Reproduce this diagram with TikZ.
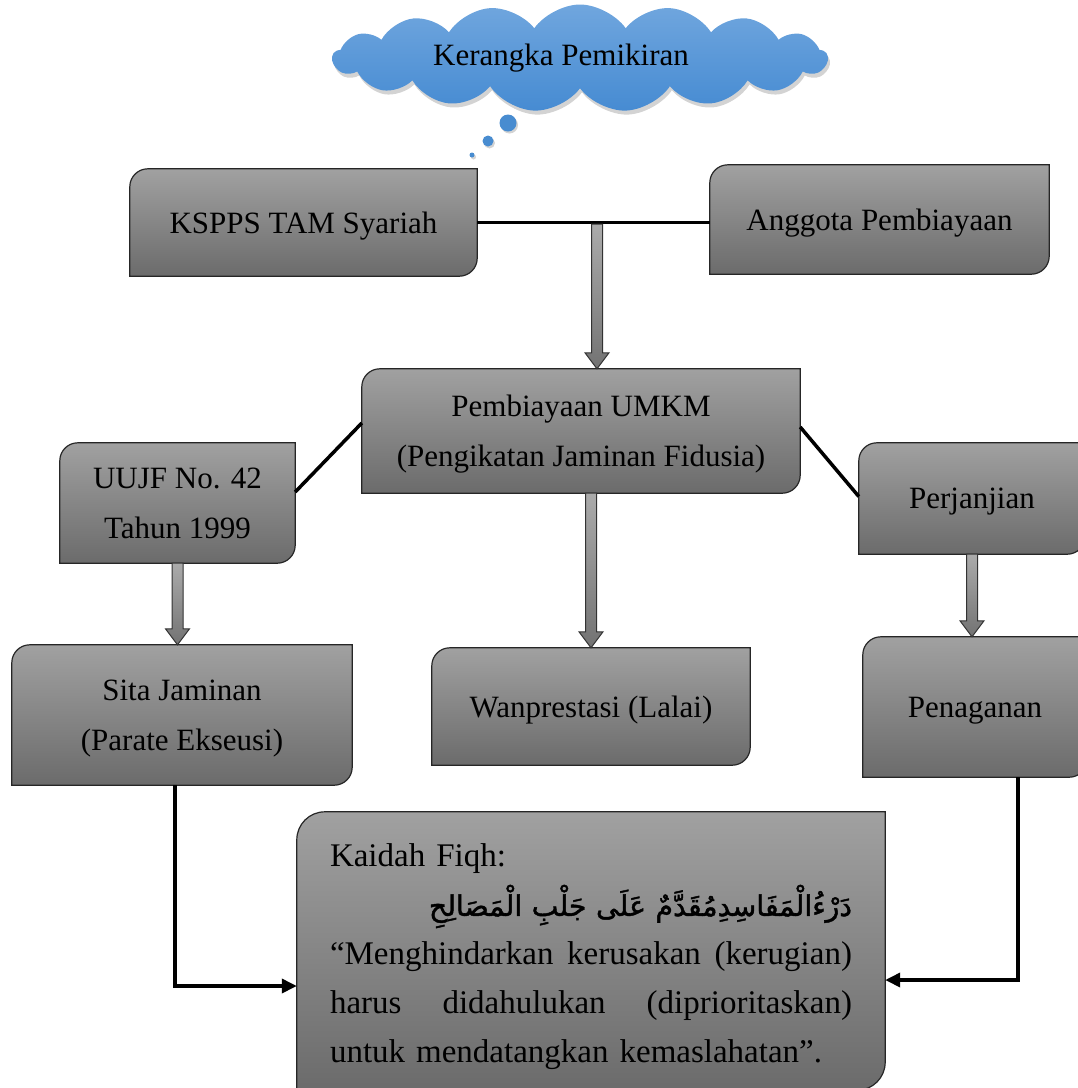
\documentclass[tikz,border=0pt]{standalone}
\usepackage{fontspec}
\usepackage{graphicx}
\setmainfont{Liberation Serif}
\newfontfamily\arabicfont[Script=Arabic,FakeBold=1.5]{DejaVu Sans}
\TeXXeTstate=1
\usetikzlibrary{shapes,shapes.symbols,arrows.meta,calc,shadows,backgrounds}
\setlength{\parindent}{0pt}

\newcommand{\labelfont}{\fontsize{31pt}{50pt}\selectfont}
\newcommand{\kaidahfont}{\fontsize{33pt}{49pt}\selectfont}

% box with round top-left and bottom-right corners
\newcommand{\boxshape}[2]{%
  \path[boxfill] (#1.south west) -- ([yshift=-#2]#1.north west)
    arc[start angle=180, end angle=90, radius=#2] -- (#1.north east)
    -- ([yshift=#2]#1.south east)
    arc[start angle=0, end angle=-90, radius=#2] -- cycle;}

% thick downward arrow between two points with the same x
\newcommand{\blockarrow}[2]{%
  \path[blockfill] ($(#1)+(-5.5,0)$) -- ($(#2)+(-5.5,16)$) -- ($(#2)+(-12,16)$)
    -- (#2) -- ($(#2)+(12,16)$) -- ($(#2)+(5.5,16)$) -- ($(#1)+(5.5,0)$) -- cycle;}

\tikzset{
  gbox/.style={rectangle, inner sep=0pt, align=center, font=\labelfont, text depth=0pt},
  twoline/.style={text depth=-6pt},
  boxfill/.style={draw=black!85, line width=1.2pt, top color=black!37, bottom color=black!58},
  blockfill/.style={draw=black!80, line width=1pt, top color=black!33, bottom color=black!55},
  link/.style={line width=3.5pt},
  bubble/.style={circle, inner sep=0pt, fill={rgb,255:red,72;green,140;blue,208}, draw=none,
    drop shadow={shadow xshift=1.5pt, shadow yshift=-2pt, opacity=0.35}}
}

\begin{document}
\begin{tikzpicture}[x=1pt, y=1pt]
\useasboundingbox (0,0) rectangle (1078,-1088);

\node (cloud) [cloud, cloud puffs=17, cloud puff arc=110, cloud ignores aspect,
  minimum width=495pt, minimum height=107pt,
  inner sep=0pt, draw=none, top color={rgb,255:red,112;green,166;blue,222},
  bottom color={rgb,255:red,70;green,139;blue,210}, font=\labelfont,
  drop shadow={shadow xshift=2pt, shadow yshift=-4pt, opacity=0.35}] at (580,-58) {Kerangka Pemikiran\hspace*{38pt}};
\node (b1) [bubble, minimum size=17pt] at (508,-123) {};
\node (b2) [bubble, minimum size=11pt] at (488,-141) {};
\node (b3) [bubble, minimum size=5pt] at (472,-155) {};

\node (ksp) [gbox, minimum width=347pt, minimum height=107pt] at (303.5,-222.5) {KSPPS TAM Syariah};
\node (agt) [gbox, minimum width=339pt, minimum height=109pt] at (879.5,-219.5) {Anggota Pembiayaan};
\node (pmb) [gbox, twoline, minimum width=438pt, minimum height=124pt] at (581,-431) {Pembiayaan UMKM\\(Pengikatan Jaminan Fidusia)};
\node (uujf) [gbox, twoline, minimum width=235pt, minimum height=120pt] at (177.5,-503) {UUJF No. 42\\Tahun 1999};
\node (perj) [gbox, minimum width=226pt, minimum height=111pt] at (972,-498.5) {Perjanjian};
\node (sita) [gbox, twoline, minimum width=340pt, minimum height=140pt] at (182,-715) {Sita Jaminan\\(Parate Ekseusi)};
\node (wan) [gbox, minimum width=318pt, minimum height=117pt] at (591,-706.5) {Wanprestasi (Lalai)};
\node (pen) [gbox, minimum width=224pt, minimum height=140pt] at (975,-707) {Penaganan};
\node (kaidah) [rectangle, inner sep=0pt, minimum width=588pt, minimum height=278pt,
  text width=522pt, font=\kaidahfont] at (591,-951) {%
\rule{0pt}{35pt}Kaidah Fiqh:\par
\hfill\raisebox{0pt}[0pt][0pt]{\resizebox{423pt}{!}{\arabicfont\beginR دَرْءُالْمَفَاسِدِمُقَدَّمٌ عَلَى جَلْبِ الْمَصَالِحِ\endR}}\par
\hbox to 522pt{“Menghindarkan\hfill kerusakan\hfill (kerugian)}\par
\hbox to 522pt{harus\hfill didahulukan\hfill (diprioritaskan)}\par
untuk mendatangkan kemaslahatan”.};

\begin{pgfonlayer}{background}
\foreach \n in {ksp,agt,pmb,uujf,perj,sita,wan,pen}
  \boxshape{\n}{18pt};
\boxshape{kaidah}{28pt};
\end{pgfonlayer}

% connectors
\draw [link] (ksp.east) -- (ksp.east -| agt.west);
\coordinate (split) at (597,-224);
\coordinate (pmbin) at (split |- pmb.north);
\blockarrow{split}{pmbin}
\draw [link] ([yshift=8pt]pmb.west) -- ([yshift=11pt]uujf.east);
\draw [link] ([yshift=4pt]pmb.east) -- ([yshift=2pt]perj.west);
\coordinate (pmbout) at (pmb.south -| wan.north);
\blockarrow{pmbout}{wan.north}
\coordinate (sitain) at (uujf.south |- sita.north);
\blockarrow{uujf.south}{sitain}
\coordinate (penin) at (perj.south |- pen.north);
\blockarrow{perj.south}{penin}

\coordinate (sitaout) at ([xshift=-7pt]sita.south);
\coordinate (penout) at ([xshift=43pt]pen.south);
\draw [link, -{Triangle[length=15pt,width=14pt]}] (sitaout) |- ([yshift=-35pt]kaidah.west);
\draw [link, -{Triangle[length=15pt,width=14pt]}] (penout) |- ([yshift=-29pt]kaidah.east);
\end{tikzpicture}
\end{document}
